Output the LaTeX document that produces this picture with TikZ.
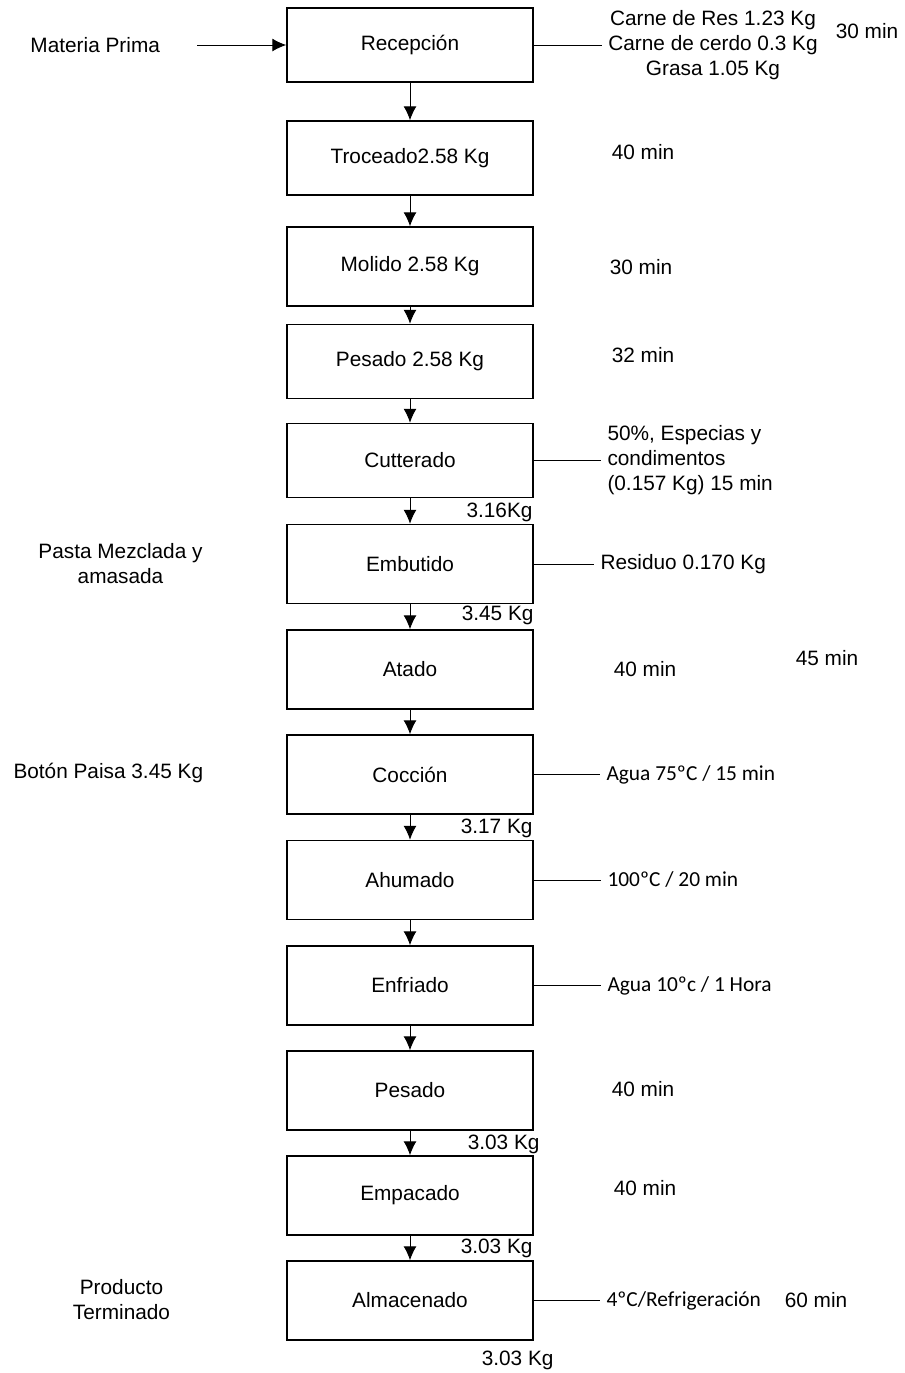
\documentclass[tikz,border=0pt]{standalone}
\usepackage{fontspec}
\setmainfont{Liberation Sans}
\newfontfamily\calibri{Carlito}
\usetikzlibrary{arrows.meta}

\begin{document}
\begin{tikzpicture}[x=0.5pt, y=-0.5pt, >={Latex[length=7pt,width=6.5pt]}, line width=0.5pt,
  font=\fontsize{10.4}{12.5}\selectfont,
  proceso/.style={draw, line width=0.75pt, minimum width=123pt, minimum height=39.5pt, inner sep=0pt},
  dato/.style={anchor=west, inner xsep=3pt, inner ysep=0pt},
  cal/.style={font=\calibri\fontsize{10.7}{13}\selectfont},
  nota/.style={inner sep=0pt},
  peso/.style={anchor=east, inner sep=0pt}]

  \useasboundingbox (0,0) rectangle (905,1373);

  % Process boxes, top to bottom
  \node[proceso, minimum height=37pt] (rec) at (410,45) {Recepción};
  \node[proceso, minimum height=37pt] (tro) at (410,158) {Troceado2.58 Kg};
  \node[proceso] (mol) at (410,266.5) {Molido 2.58 Kg};
  \node[proceso, minimum height=37pt] (pes1) at (410,361.5) {Pesado 2.58 Kg};
  \node[proceso, minimum height=37pt] (cut) at (410,460.5) {Cutterado};
  \node[proceso] (emb) at (410,564) {Embutido};
  \node[proceso] (ata) at (410,669.5) {Atado};
  \node[proceso] (coc) at (410,774.5) {Cocción};
  \node[proceso] (ahu) at (410,880) {Ahumado};
  \node[proceso] (enf) at (410,985.5) {Enfriado};
  \node[proceso] (pes2) at (410,1090.5) {Pesado};
  \node[proceso] (emp) at (410,1195.5) {Empacado};
  \node[proceso] (alm) at (410,1300.5) {Almacenado};

  % Flow between the boxes
  \foreach \a/\b in {rec/tro, tro/mol, mol/pes1, pes1/cut, cut/emb, emb/ata,
                     ata/coc, coc/ahu, ahu/enf, enf/pes2, pes2/emp, emp/alm}
    \draw[->] (\a) -- (\b);

  % Input on the left
  \node[nota, anchor=west] (mp) at (30,45) {Materia Prima};
  \coordinate (mpin) at (197,45);
  \draw[->] (mpin) -- (rec.west);

  % Side data on the right
  \node[inner xsep=3pt, inner ysep=0pt, align=center] (recin) at (713,45)
    {Carne de Res 1.23 Kg\\Carne de cerdo 0.3 Kg\\Grasa 1.05 Kg};
  \node[dato, align=left] (cutin) at (601,460.5)
    {50\%, Especias y\\condimentos\\(0.157 Kg) 15 min};
  \node[dato] (embin) at (594,564) {Residuo 0.170 Kg};
  \node[dato, cal] (cocin) at (600,774.5) {Agua 75ºC / 15 min};
  \node[dato, cal] (ahuin) at (601,880) {100ºC / 20 min};
  \node[dato, cal] (enfin) at (601,985.5) {Agua 10ºc / 1 Hora};
  \node[dato, cal] (almin) at (600,1300.5) {4ºC/Refrigeración};
  \foreach \a/\b in {rec/recin, cut/cutin, emb/embin, coc/cocin, ahu/ahuin, enf/enfin, alm/almin}
    \draw (\a.east) -- (\b.west);

  % Times
  \node[nota] (t1) at (867,31) {30 min};
  \node[nota] (t2) at (643,152) {40 min};
  \node[nota] (t3) at (641,267) {30 min};
  \node[nota] (t4) at (643,355) {32 min};
  \node[nota] (t5) at (645,669) {40 min};
  \node[nota] (t6) at (827,658) {45 min};
  \node[nota] (t7) at (643,1089) {40 min};
  \node[nota] (t8) at (645,1188) {40 min};
  \node[nota] (t9) at (816,1300) {60 min};

  % Weights below the boxes
  \node[peso] (w1) at (533,512) {3.16Kg};
  \node[peso] (w2) at (534,615) {3.45 Kg};
  \node[peso] (w3) at (533,828) {3.17 Kg};
  \node[peso] (w4) at (540,1144) {3.03 Kg};
  \node[peso] (w5) at (533,1248) {3.03 Kg};
  \node[peso] (w6) at (554,1360) {3.03 Kg};

  % Notes on the left
  \node[nota, align=center] (pasta) at (120.5,564) {Pasta Mezclada y\\amasada};
  \node[nota, anchor=west] (boton) at (13,773) {Botón Paisa 3.45 Kg};
  \node[nota, align=center] (prod) at (121.5,1300) {Producto\\Terminado};

\end{tikzpicture}
\end{document}
